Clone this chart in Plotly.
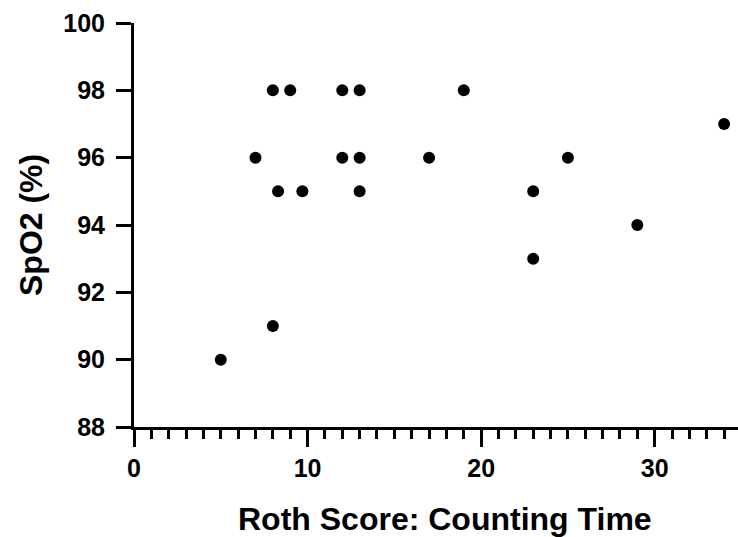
import plotly.graph_objects as go

roth_score = [5, 7, 8, 9, 8.3, 9.7, 8, 12, 13, 12, 13, 13, 17, 19, 23, 23, 25, 29, 34]
spo2 = [90, 96, 98, 98, 95, 95, 91, 98, 98, 96, 96, 95, 96, 98, 95, 93, 96, 94, 97]

x_ticks = [0, 10, 20, 30]
y_ticks = [88, 90, 92, 94, 96, 98, 100]

FONT = "Liberation Sans, Arial, sans-serif"

fig = go.Figure()
fig.add_trace(go.Scatter(
    x=roth_score, y=spo2, mode="markers",
    marker=dict(color="black", size=12, line=dict(width=0)),
    showlegend=False, cliponaxis=False,
))

fig.update_layout(
    width=738, height=537,
    margin=dict(l=134, r=0, t=23, b=110, pad=0),
    plot_bgcolor="white", paper_bgcolor="white",
    font=dict(family=FONT, color="black"),
    xaxis=dict(
        range=[0, 34.8], tickmode="array", tickvals=x_ticks,
        showgrid=False, zeroline=False,
        showline=True, linecolor="black", linewidth=3,
        ticks="outside", ticklen=17, tickwidth=3, tickcolor="black",
        tickfont=dict(family=FONT, size=25, color="black", weight="bold"),
        minor=dict(dtick=1, ticks="outside", ticklen=9, tickwidth=3, tickcolor="black", showgrid=False),
    ),
    yaxis=dict(
        range=[88, 100], tickmode="array", tickvals=y_ticks,
        showgrid=False, zeroline=False,
        showline=True, linecolor="black", linewidth=3,
        ticks="outside", ticklen=15, tickwidth=3, tickcolor="black",
        ticklabelstandoff=6,
        tickfont=dict(family=FONT, size=25, color="black", weight="bold"),
    ),
    annotations=[
        dict(text="Roth Score: Counting Time", xref="paper", yref="paper",
             x=0, y=0, xanchor="center", yanchor="top", xshift=445 - 134, yshift=-72,
             showarrow=False, font=dict(family=FONT, size=32, color="black", weight="bold")),
        dict(text="SpO2 (%)", xref="paper", yref="paper", textangle=-90,
             x=0, y=0.5, xanchor="center", yanchor="middle", xshift=31 - 134,
             showarrow=False, font=dict(family=FONT, size=32, color="black", weight="bold")),
    ],
)

fig.write_html(
    "out.html",
    config={"displayModeBar": False},
    post_script="document.body.style.margin='0';document.body.style.padding='0';",
)
